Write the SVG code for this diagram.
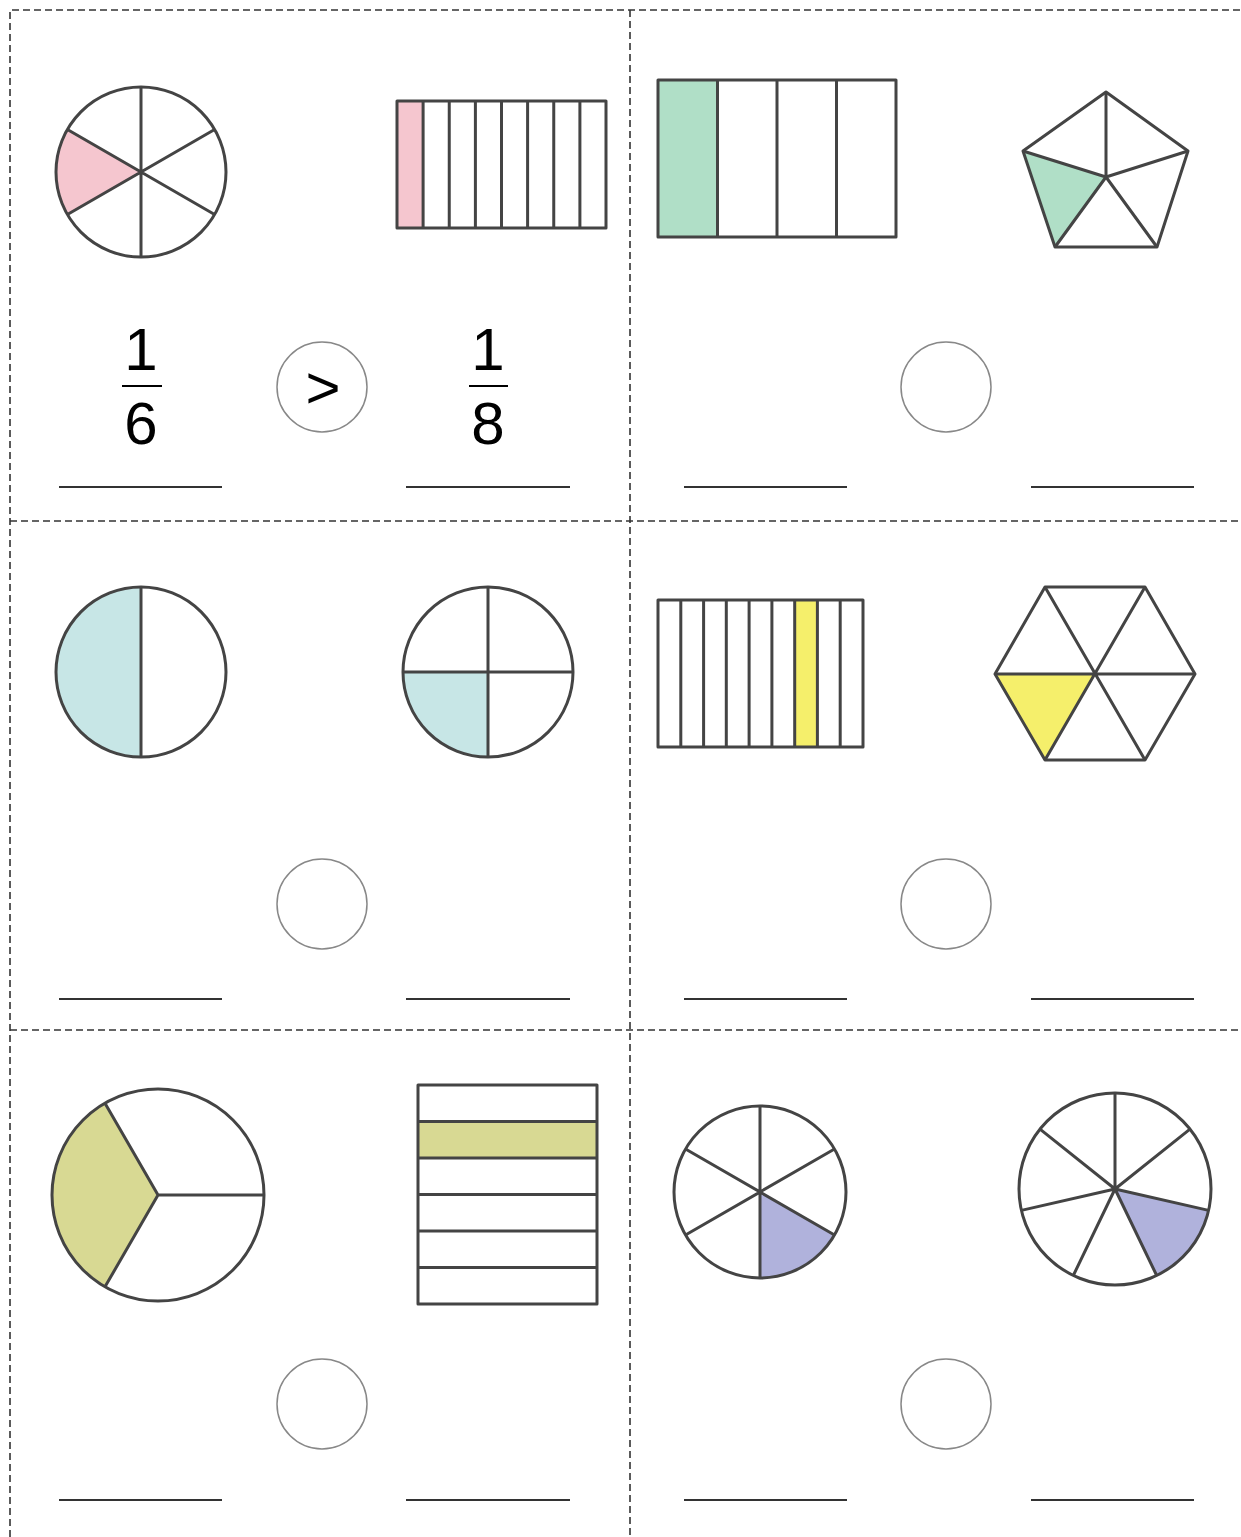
<svg xmlns="http://www.w3.org/2000/svg" width="1241" height="1537" viewBox="0 0 1241 1537">
<style>
.shape{fill:none;stroke:#444;stroke-width:3;stroke-linejoin:round}
.div{fill:none;stroke:#333;stroke-width:1.6;stroke-dasharray:7 4}
.ring{fill:#fff;stroke:#888;stroke-width:1.5}
.ul{stroke:#333;stroke-width:2}
.num{font-family:"Liberation Sans",Arial,sans-serif;font-size:60px;fill:#000;text-anchor:middle}
.pink{fill:#f5c6cf}.green{fill:#b0dfc7}.blue{fill:#c7e6e6}.yellow{fill:#f5ef6b}.olive{fill:#d8d993}.purple{fill:#b0b2dc}
</style>
<rect width="1241" height="1537" fill="#fff"/>
<g id="grid">
<path class="div" d="M10,1537 V10 H1241"/>
<path class="div" d="M630,10 V1537"/>
<path class="div" d="M10,521 H1241"/>
<path class="div" d="M10,1030 H1241"/>
</g>

<!-- Cell 1 -->
<g id="circle-sixths-pink">
<path class="pink" d="M141,172 L67.4,129.5 A85,85 0 0 0 67.4,214.5 Z"/>
<circle class="shape" cx="141" cy="172" r="85"/>
<path class="shape" d="M141,87 V257 M67.4,129.5 L214.6,214.5 M67.4,214.5 L214.6,129.5"/>
</g>
<g id="bar-eighths-pink">
<rect class="pink" x="397" y="101" width="26.1" height="127"/>
<rect class="shape" x="397" y="101" width="209" height="127"/>
<path class="shape" d="M423.1,101V228M449.25,101V228M475.4,101V228M501.5,101V228M527.6,101V228M553.75,101V228M579.9,101V228"/>
</g>
<g id="frac-1-6">
<text class="num" x="141" y="370">1</text>
<line x1="122" y1="386" x2="162" y2="386" stroke="#000" stroke-width="2.2"/>
<text class="num" x="141" y="444">6</text>
</g>
<g id="compare-1">
<circle class="ring" cx="322" cy="387" r="45"/>
<text class="num" x="323" y="408">&gt;</text>
</g>
<g id="frac-1-8">
<text class="num" x="488" y="370">1</text>
<line x1="469" y1="386" x2="508" y2="386" stroke="#000" stroke-width="2.2"/>
<text class="num" x="488" y="444">8</text>
</g>
<g id="lines-1">
<line class="ul" x1="59" y1="487" x2="222" y2="487"/>
<line class="ul" x1="406" y1="487" x2="570" y2="487"/>
</g>

<!-- Cell 2 -->
<g id="bar-quarters-green">
<rect class="green" x="658" y="80" width="59.5" height="157"/>
<rect class="shape" x="658" y="80" width="238" height="157"/>
<path class="shape" d="M717.5,80V237M777,80V237M836.5,80V237"/>
</g>
<g id="pentagon-fifths-green">
<polygon class="green" points="1023,151 1106,177 1055,247"/>
<polygon class="shape" points="1106,92 1188,151 1157,247 1055,247 1023,151"/>
<path class="shape" d="M1106,92V177M1188,151L1106,177M1157,247L1106,177M1055,247L1106,177M1023,151L1106,177"/>
</g>
<g id="compare-2"><circle class="ring" cx="946" cy="387" r="45"/></g>
<g id="lines-2">
<line class="ul" x1="684" y1="487" x2="847" y2="487"/>
<line class="ul" x1="1031" y1="487" x2="1194" y2="487"/>
</g>

<!-- Cell 3 -->
<g id="circle-halves-blue">
<path class="blue" d="M141,587 A85,85 0 0 0 141,757 Z"/>
<circle class="shape" cx="141" cy="672" r="85"/>
<path class="shape" d="M141,587V757"/>
</g>
<g id="circle-quarters-blue">
<path class="blue" d="M488,672 L403,672 A85,85 0 0 0 488,757 Z"/>
<circle class="shape" cx="488" cy="672" r="85"/>
<path class="shape" d="M488,587V757M403,672H573"/>
</g>
<g id="compare-3"><circle class="ring" cx="322" cy="904" r="45"/></g>
<g id="lines-3">
<line class="ul" x1="59" y1="999" x2="222" y2="999"/>
<line class="ul" x1="406" y1="999" x2="570" y2="999"/>
</g>

<!-- Cell 4 -->
<g id="bar-ninths-yellow">
<rect class="yellow" x="794.7" y="600" width="22.7" height="147"/>
<rect class="shape" x="658" y="600" width="205" height="147"/>
<path class="shape" d="M680.8,600V747M703.6,600V747M726.3,600V747M749.1,600V747M771.9,600V747M794.7,600V747M817.4,600V747M840.2,600V747"/>
</g>
<g id="hexagon-sixths-yellow">
<polygon class="yellow" points="995,674 1095,674 1045,760"/>
<polygon class="shape" points="995,674 1045,587 1145,587 1195,674 1145,760 1045,760"/>
<path class="shape" d="M995,674H1195M1045,587L1145,760M1145,587L1045,760"/>
</g>
<g id="compare-4"><circle class="ring" cx="946" cy="904" r="45"/></g>
<g id="lines-4">
<line class="ul" x1="684" y1="999" x2="847" y2="999"/>
<line class="ul" x1="1031" y1="999" x2="1194" y2="999"/>
</g>

<!-- Cell 5 -->
<g id="circle-thirds-olive">
<path class="olive" d="M158,1195 L105,1103.2 A106,106 0 0 0 105,1286.8 Z"/>
<circle class="shape" cx="158" cy="1195" r="106"/>
<path class="shape" d="M158,1195H264M158,1195L105,1103.2M158,1195L105,1286.8"/>
</g>
<g id="bar-sixths-olive">
<rect class="olive" x="418" y="1121.5" width="179" height="36.5"/>
<rect class="shape" x="418" y="1085" width="179" height="219"/>
<path class="shape" d="M418,1121.5H597M418,1158H597M418,1194.5H597M418,1231H597M418,1267.5H597"/>
</g>
<g id="compare-5"><circle class="ring" cx="322" cy="1404" r="45"/></g>
<g id="lines-5">
<line class="ul" x1="59" y1="1500" x2="222" y2="1500"/>
<line class="ul" x1="406" y1="1500" x2="570" y2="1500"/>
</g>

<!-- Cell 6 -->
<g id="circle-sixths-purple">
<path class="purple" d="M760,1192 L834.5,1235 A86,86 0 0 1 760,1278 Z"/>
<circle class="shape" cx="760" cy="1192" r="86"/>
<path class="shape" d="M760,1106V1278M685.5,1149L834.5,1235M685.5,1235L834.5,1149"/>
</g>
<g id="circle-sevenths-purple">
<path class="purple" d="M1115,1189 L1208.6,1210.4 A96,96 0 0 1 1156.7,1275.5 Z"/>
<circle class="shape" cx="1115" cy="1189" r="96"/>
<path class="shape" d="M1115,1189V1093M1115,1189L1190,1129.1M1115,1189L1208.6,1210.4M1115,1189L1156.7,1275.5M1115,1189L1073.3,1275.5M1115,1189L1021.4,1210.4M1115,1189L1040,1129.1"/>
</g>
<g id="compare-6"><circle class="ring" cx="946" cy="1404" r="45"/></g>
<g id="lines-6">
<line class="ul" x1="684" y1="1500" x2="847" y2="1500"/>
<line class="ul" x1="1031" y1="1500" x2="1194" y2="1500"/>
</g>
</svg>
